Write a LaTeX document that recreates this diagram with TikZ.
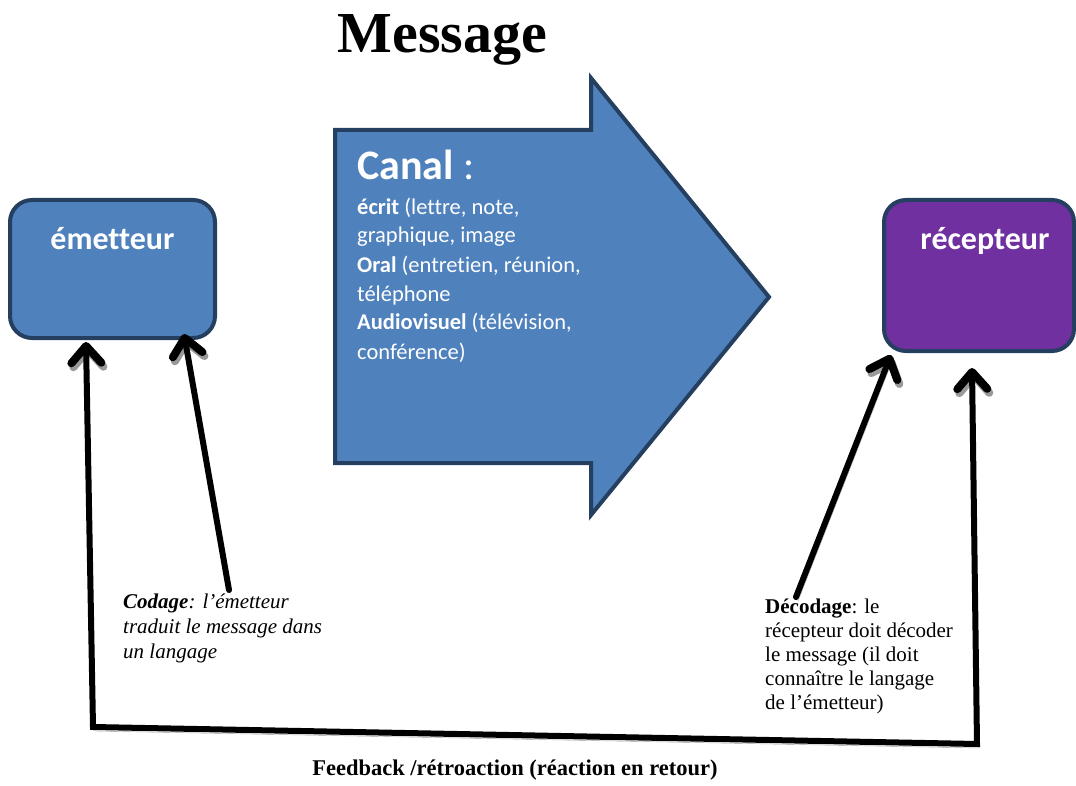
\documentclass[tikz,border=0pt]{standalone}
\usepackage{fontspec}
\setmainfont{Liberation Serif}
\newfontfamily\calibri[Ligatures=CommonOff]{Carlito}
\usetikzlibrary{arrows.meta}
\definecolor{boxblue}{HTML}{4F81BD}
\definecolor{boxedge}{HTML}{243F60}
\definecolor{boxpurple}{HTML}{7030A0}
\tikzset{
  roundbox/.style={draw=boxedge, line width=4pt, rounded corners=22pt, inner sep=0pt},
  boxlabel/.style={anchor=base, text=white, font=\calibri\bfseries\fontsize{32}{36}\selectfont, inner sep=0pt},
  tipshape/.tip={Straight Barb[length=17pt,width=30pt,line width=8pt,round]},
  conn/.style={line width=6pt, black, line cap=round,
    -tipshape,
    preaction={draw=black!40, transform canvas={shift={(2pt,-4pt)}}}},
  conn2/.style={line width=6pt, black, line cap=butt, line join=miter,
    tipshape-tipshape,
    preaction={draw=black!40, transform canvas={shift={(2pt,-4pt)}}}},
  note/.style={anchor=base west, align=left, inner sep=0pt, font=\fontsize{21}{24}\selectfont}
}
\begin{document}
\begin{tikzpicture}[x=1pt,y=-1pt]
\useasboundingbox (0,0) rectangle (1076,786);
% title
\node (title) [anchor=base, inner sep=0pt, font=\bfseries\fontsize{58}{64}\selectfont] at (442.5,53) {Message};
% boxes
\node (em) [roundbox, fill=boxblue, minimum width=205pt, minimum height=138pt] at (112.5,269) {};
\node (emlabel) [boxlabel] at (112.5,250) {émetteur};
\node (rec) [roundbox, fill=boxpurple, minimum width=190pt, minimum height=151pt] at (979,275.5) {};
\node (reclabel) [boxlabel] at (985,250) {récepteur};
% big arrow (canal)
\draw[draw=boxedge, fill=boxblue, line width=4pt, line join=miter]
  (335,130) -- (591,130) -- (591,78) -- (769,297) -- (591,515) -- (591,463) -- (335,463) -- cycle;
\node (canaltitle) [anchor=base west, inner sep=0pt, text=white, font=\calibri\fontsize{42}{46}\selectfont] at (357,180) {\textbf{Canal} :};
% base anchor of a multi-line node = baseline of its last line
\node (canalbody) [anchor=base west, inner sep=0pt, align=left, text=white, font=\calibri\fontsize{22.5}{29}\selectfont] at (357,359)
  {\textbf{écrit} (lettre, note,\\graphique, image\\\textbf{Oral} (entretien, réunion,\\téléphone\\\textbf{Audiovisuel} (télévision,\\conférence)};
% notes
\node (codage) [note, font=\itshape\fontsize{21}{25}\selectfont] at (123,658)
  {\textbf{Codage}: l’émetteur\\traduit le message dans\\un langage};
\node (decodage) [note] at (765,709)
  {\textbf{Décodage}: le\\récepteur doit décoder\\le message (il doit\\connaître le langage\\de l’émetteur)};
\node (feedback) [anchor=base, inner sep=0pt, font=\bfseries\fontsize{22.5}{26}\selectfont] at (515,775)
  {Feedback /rétroaction (réaction en retour)};
% connector points
\coordinate (codfoot) at (229,590);
\coordinate (emcorner) at (184,334);
\coordinate (decfoot) at (796,597);
\coordinate (reccorner) at (891,355);
\coordinate (embottom) at (86,342);
\coordinate (fbleft) at (93,727);
\coordinate (fbright) at (977,744);
\coordinate (recbottom) at (972,368);
% connectors
\draw[conn] (codfoot) -- (emcorner);
\draw[conn] (decfoot) -- (reccorner);
\draw[conn2] (embottom) -- (fbleft) -- (fbright) -- (recbottom);
\end{tikzpicture}
\end{document}
